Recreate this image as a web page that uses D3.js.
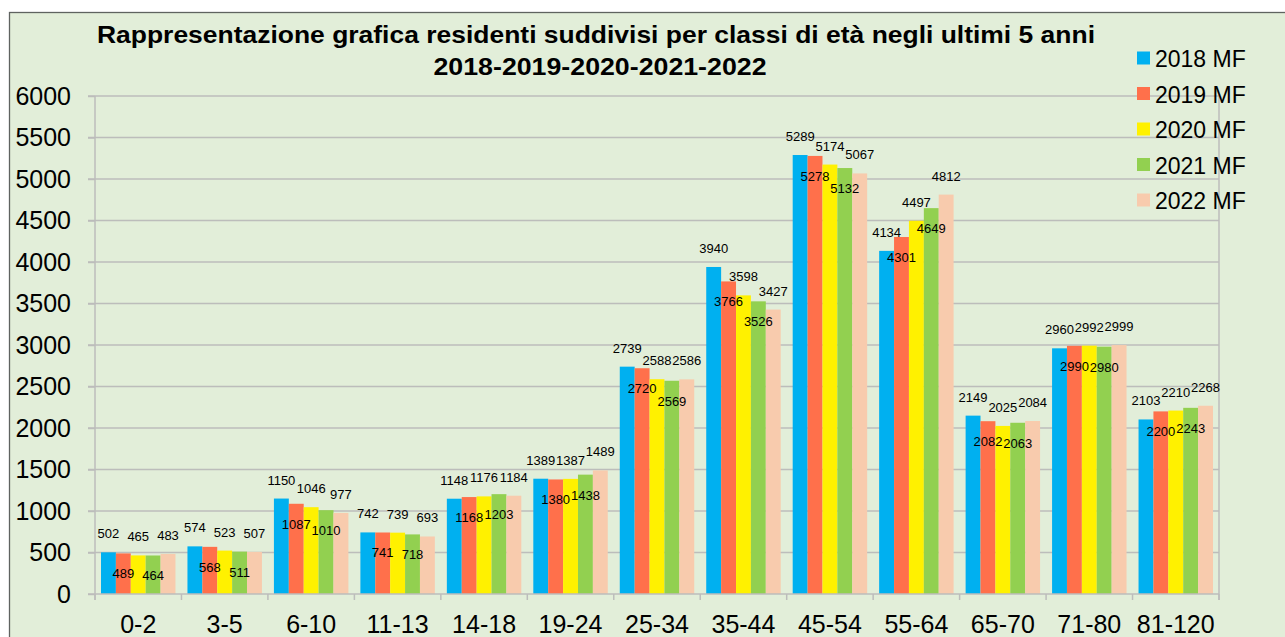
<!DOCTYPE html>
<html>
<head>
    <meta charset="utf-8">
    <script src="https://d3js.org/d3.v7.min.js"></script>
</head>

<style>
body {
    margin: 0;
    background: #ffffff;
    overflow: hidden;
}
text {
    font-family: "Liberation Sans", Arial, sans-serif;
}
</style>

<body>
<div id="chart"></div>

<script>
    // Age classes and yearly resident counts
    var classes = ["0-2", "3-5", "6-10", "11-13", "14-18", "19-24", "25-34", "35-44", "45-54", "55-64", "65-70", "71-80", "81-120"];
    var years = ["2018 MF", "2019 MF", "2020 MF", "2021 MF", "2022 MF"];
    var colors = ["#00b0f0", "#ff704b", "#fff100", "#92d050", "#f8cbad"];

    var v2018 = [502, 574, 1150, 742, 1148, 1389, 2739, 3940, 5289, 4134, 2149, 2960, 2103];
    var v2019 = [489, 568, 1087, 741, 1168, 1380, 2720, 3766, 5278, 4301, 2082, 2990, 2200];
    var v2020 = [465, 523, 1046, 739, 1176, 1387, 2588, 3598, 5174, 4497, 2025, 2992, 2210];
    var v2021 = [464, 511, 1010, 718, 1203, 1438, 2569, 3526, 5132, 4649, 2063, 2980, 2243];
    var v2022 = [483, 507, 977, 693, 1184, 1489, 2586, 3427, 5067, 4812, 2084, 2999, 2268];
    var series = [v2018, v2019, v2020, v2021, v2022];

    var yTicks = [0, 500, 1000, 1500, 2000, 2500, 3000, 3500, 4000, 4500, 5000, 5500, 6000];

    var width = 1285, height = 637;
    var plot = {left: 95, right: 1219, top: 96, bottom: 594};

    var svg = d3.select("#chart")
        .append("svg")
        .attr("width", width)
        .attr("height", height);

    // chart area background + border (runs off the right/bottom edge)
    svg.append("rect")
        .attr("x", 9.5).attr("y", 12.5)
        .attr("width", width).attr("height", height)
        .attr("fill", "#e2eed9")
        .attr("stroke", "#5f6360")
        .attr("stroke-width", 1.3);

    // Scales
    var x0 = d3.scaleBand()
        .domain(classes)
        .range([plot.left, plot.right]);
    var x1 = d3.scaleBand()
        .domain(d3.range(years.length))
        .range([6, x0.bandwidth() - 6]);
    var y = d3.scaleLinear()
        .domain([0, 6000])
        .range([plot.bottom, plot.top]);

    // horizontal gridlines
    svg.append("g")
        .selectAll("line")
        .data(yTicks.slice(1))
        .enter().append("line")
        .attr("x1", plot.left - 7).attr("x2", plot.right)
        .attr("y1", d => y(d)).attr("y2", d => y(d))
        .style("stroke", "#bcbdbb")
        .style("stroke-width", 1.5);

    // y axis (gray line + big labels)
    var yAxis = svg.append("g")
        .attr("transform", "translate(" + plot.left + ",0)")
        .call(d3.axisLeft(y).tickValues(yTicks).tickFormat(d3.format("d")).tickSize(7).tickPadding(17));
    yAxis.select(".domain").style("stroke", "#bcbdbb").style("stroke-width", 1.5)
        .attr("d", "M0," + plot.top + "V" + (plot.bottom + 6));
    yAxis.selectAll(".tick line").style("stroke", "#bcbdbb").style("stroke-width", 1.5);
    yAxis.selectAll("text")
        .style("font-size", "25px")
        .style("font-family", "'Liberation Sans', Arial, sans-serif")
        .attr("fill", "#000");

    // right border of the plot area
    svg.append("line")
        .attr("x1", plot.right).attr("x2", plot.right)
        .attr("y1", plot.top).attr("y2", plot.bottom + 6)
        .style("stroke", "#bcbdbb")
        .style("stroke-width", 1.5);

    // BARS
    var groups = svg.append("g")
        .selectAll("g")
        .data(classes)
        .enter().append("g")
        .attr("transform", d => "translate(" + x0(d) + ",0)");

    groups.selectAll("rect")
        .data((c, i) => series.map((s, k) => ({k: k, v: s[i]})))
        .enter().append("rect")
        .attr("x", d => x1(d.k))
        .attr("width", x1.bandwidth())
        .attr("y", d => y(d.v))
        .attr("height", d => y(0) - y(d.v))
        .attr("fill", d => colors[d.k]);

    // value labels: even series above the bar, odd series inside below the top
    groups.selectAll("text")
        .data((c, i) => series.map((s, k) => ({k: k, v: s[i]})))
        .enter().append("text")
        .attr("x", d => x1(d.k) + x1.bandwidth() / 2)
        .attr("y", d => d.k % 2 == 0 ? y(d.v) - 14 : y(d.v) + 25)
        .attr("text-anchor", "middle")
        .attr("font-size", "13px")
        .attr("fill", "#000")
        .text(d => d.v);

    // x axis
    var xAxisLine = svg.append("g");
    xAxisLine.append("line")
        .attr("x1", plot.left - 7).attr("x2", plot.right)
        .attr("y1", plot.bottom).attr("y2", plot.bottom)
        .style("stroke", "#bcbdbb")
        .style("stroke-width", 1.5);
    xAxisLine.selectAll(".tk")
        .data(classes.concat(["end"]))
        .enter().append("line")
        .attr("x1", (d, i) => plot.left + i * x0.step())
        .attr("x2", (d, i) => plot.left + i * x0.step())
        .attr("y1", plot.bottom).attr("y2", plot.bottom + 6)
        .style("stroke", "#bcbdbb")
        .style("stroke-width", 1.5);
    xAxisLine.selectAll("text")
        .data(classes)
        .enter().append("text")
        .attr("x", d => x0(d) + x0.bandwidth() / 2)
        .attr("y", 633)
        .attr("text-anchor", "middle")
        .attr("font-size", "25px")
        .attr("fill", "#000")
        .text(d => d);

    // Title (stretched a bit wider, like the original)
    var title = svg.append("g")
        .attr("font-weight", "bold")
        .attr("font-size", "24px")
        .attr("text-anchor", "middle");
    title.append("text").attr("x", 596).attr("y", 43)
        .attr("textLength", 998).attr("lengthAdjust", "spacingAndGlyphs")
        .text("Rappresentazione grafica residenti suddivisi per classi di età negli ultimi 5 anni");
    title.append("text").attr("x", 600).attr("y", 75)
        .attr("textLength", 333).attr("lengthAdjust", "spacingAndGlyphs")
        .text("2018-2019-2020-2021-2022");

    // Legend
    var legend = svg.append("g")
        .selectAll("g")
        .data(years)
        .enter().append("g")
        .attr("transform", (d, i) => "translate(1137," + (58 + i * 35.5) + ")");
    legend.append("rect")
        .attr("x", 0).attr("y", -6.5)
        .attr("width", 13).attr("height", 13)
        .attr("fill", (d, i) => colors[i]);
    legend.append("text")
        .attr("x", 18).attr("y", 9)
        .attr("font-size", "23px")
        .attr("fill", "#000")
        .text(d => d);
</script>
</body>
</html>
